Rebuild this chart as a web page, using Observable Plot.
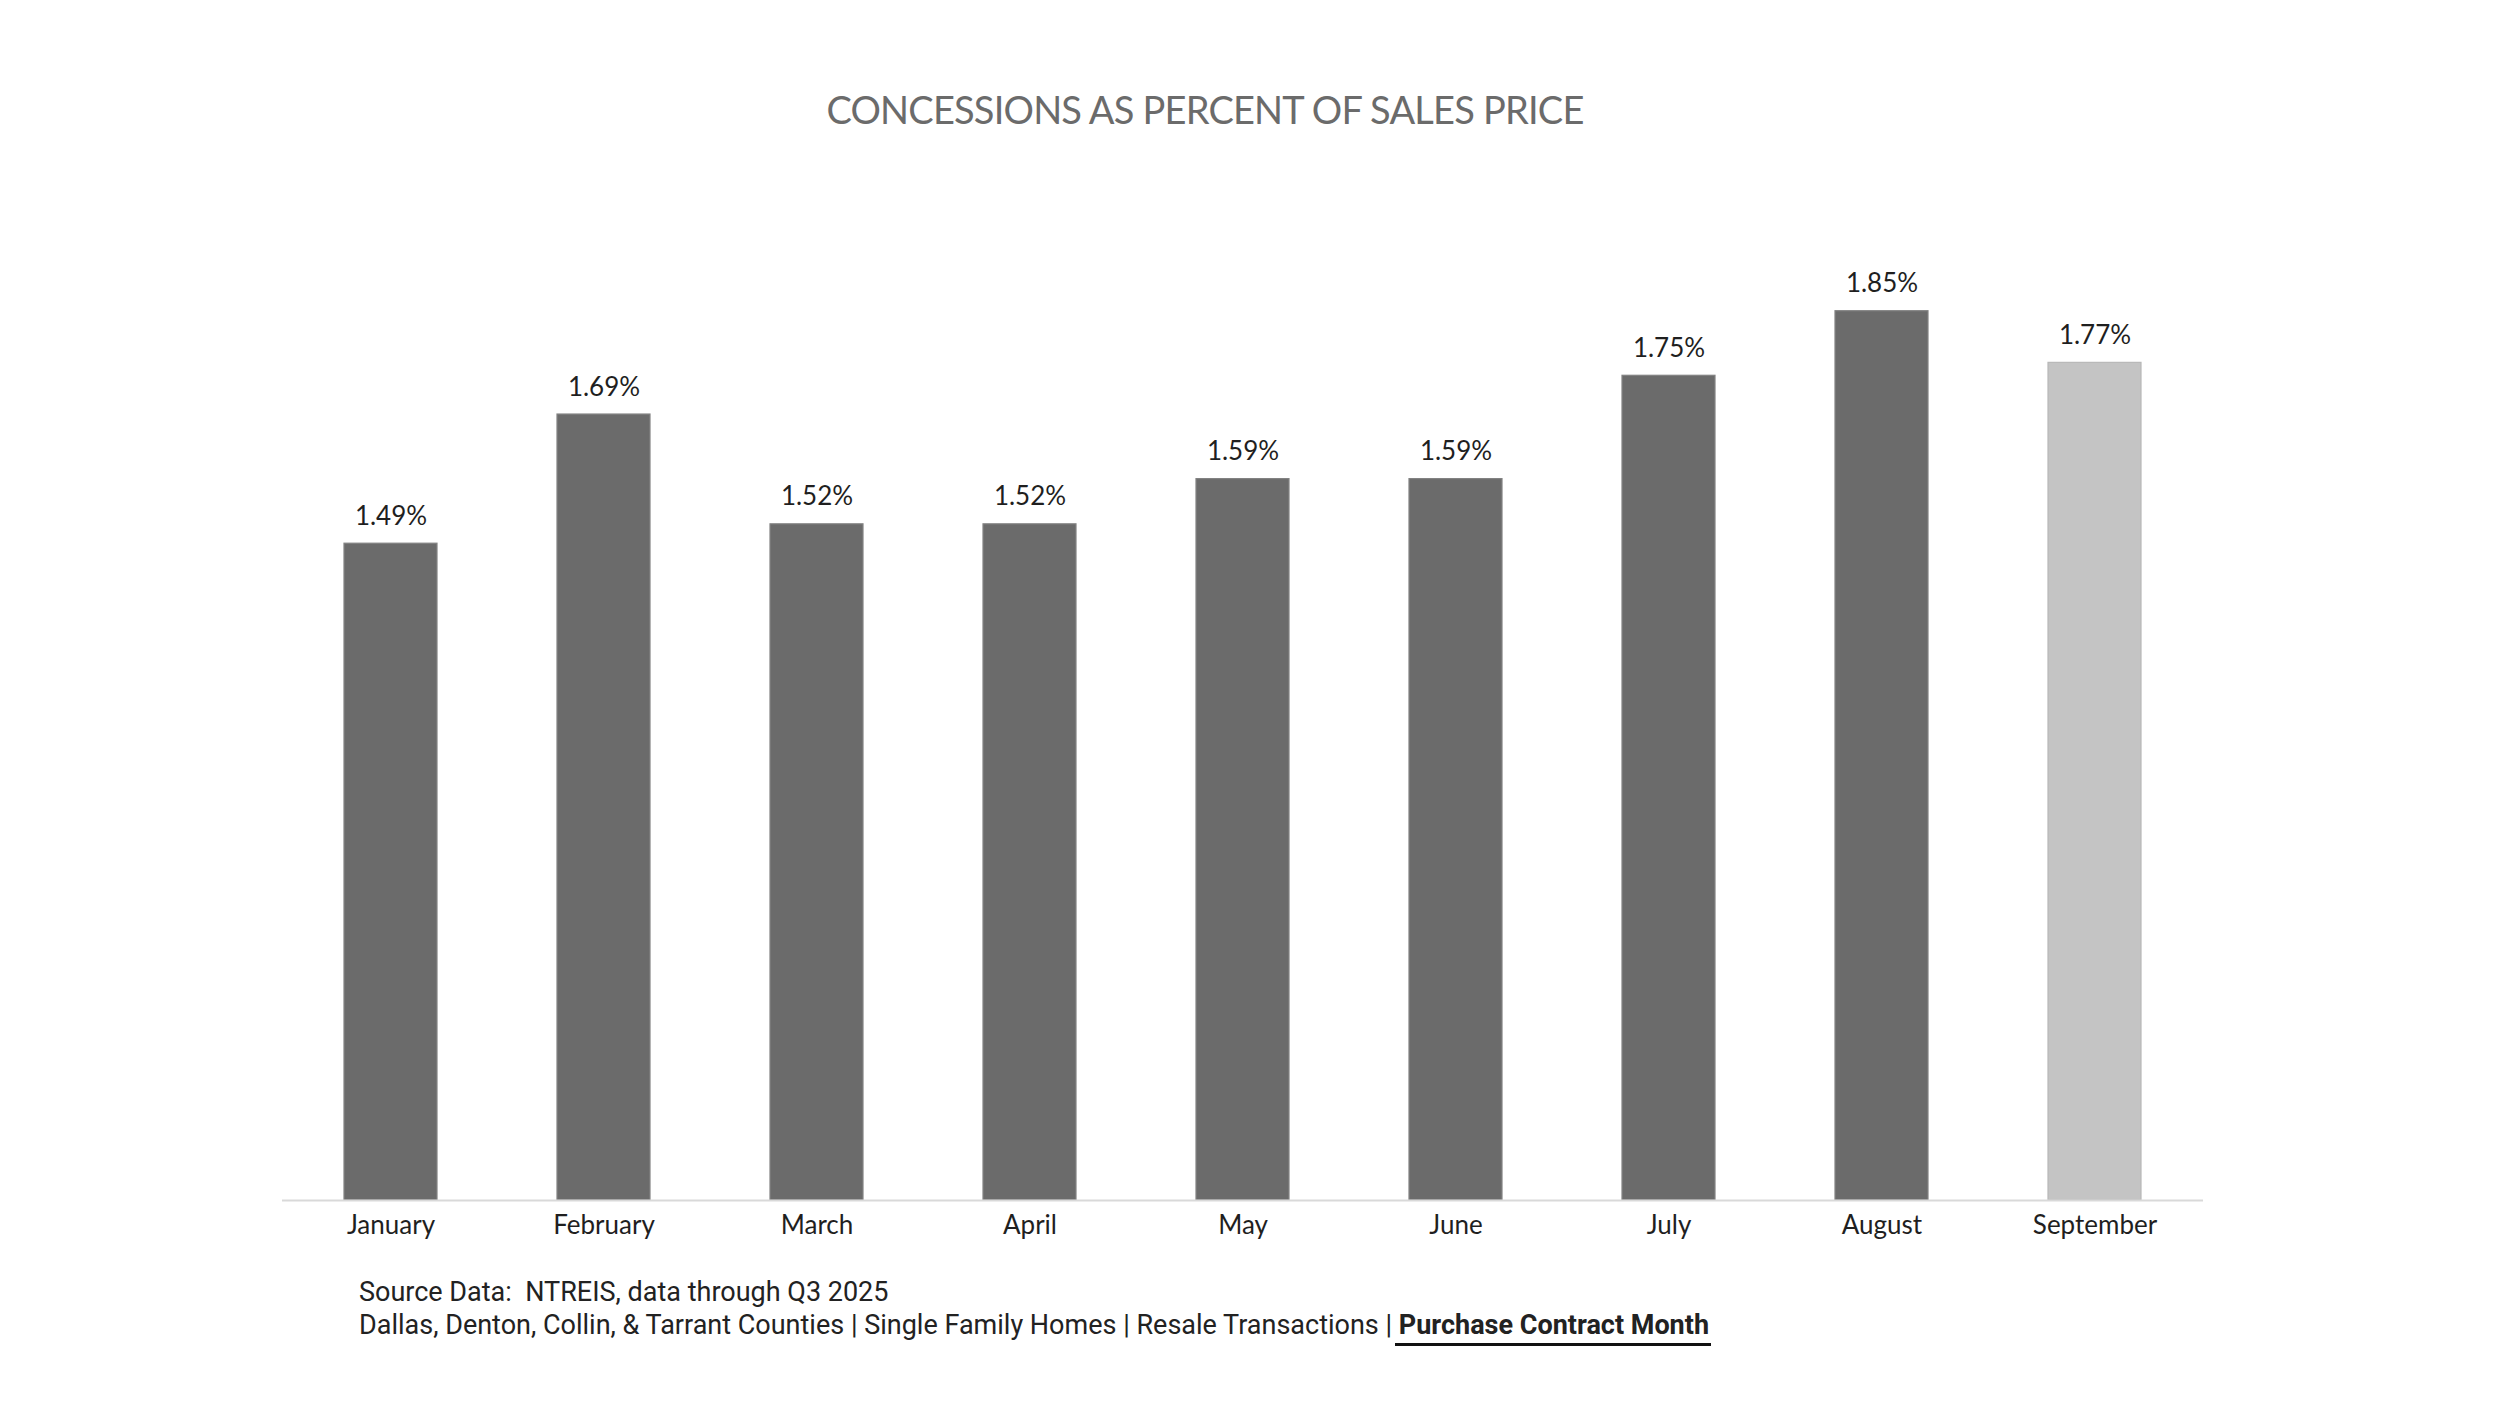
<!DOCTYPE html>
<html>
<head>
<meta charset="utf-8">
<script src="https://cdn.jsdelivr.net/npm/d3@7"></script>
<script src="https://cdn.jsdelivr.net/npm/@observablehq/plot@0.6"></script>
<style>
  html, body { margin: 0; padding: 0; background: #ffffff; }
  body { width: 2500px; height: 1406px; position: relative; overflow: hidden; font-family: Lato, "Noto Sans", sans-serif; }
  #title { position: absolute; left: 1205px; top: 90px; transform: translateX(-50%); white-space: nowrap;
           font-family: Lato, sans-serif; font-size: 38px; line-height: 38px; color: #6b6b6b; letter-spacing: -0.8px; }
  #chart { position: absolute; left: 0; top: 250px; }
  #footer { position: absolute; left: 359px; top: 1276px; font-family: Roboto, sans-serif; font-size: 27px; color: #222;
            line-height: 33px; white-space: pre; letter-spacing: 0px; }
  #footer b { font-weight: 700; border-bottom: 3px solid #111; padding: 0 2px 2px 4px; margin-left: -4px; }
</style>
</head>
<body>
<div id="title"></div>
<div id="chart"></div>
<div id="footer"></div>
<script>
// ---- data ----
const months = ["January", "February", "March", "April", "May", "June", "July", "August", "September"];
const concessionPct = [1.49, 1.69, 1.52, 1.52, 1.59, 1.59, 1.75, 1.85, 1.77];
const dataStatus = ["final", "final", "final", "final", "final", "final", "final", "final", "latest"];
const titleText = "CONCESSIONS AS PERCENT OF SALES PRICE";
const sourceLine = "Source Data:  NTREIS, data through Q3 2025";
const scopeLine = "Dallas, Denton, Collin, & Tarrant Counties | Single Family Homes | Resale Transactions | ";
const scopeEmphasis = "Purchase Contract Month";

const yAxisMin = 0.473;   // value axis (hidden) does not start at zero in the reference

const rows = months.map((m, i) => ({ month: m, value: concessionPct[i], status: dataStatus[i] }));

document.getElementById("title").textContent = titleText;
const footer = document.getElementById("footer");
footer.appendChild(document.createTextNode(sourceLine + "\n" + scopeLine));
const b = document.createElement("b");
b.textContent = scopeEmphasis;
footer.appendChild(b);

const chart = Plot.plot({
  width: 2500,
  height: 1030,
  marginLeft: 282,
  marginRight: 297,
  marginTop: 60.7,
  marginBottom: 80,
  style: { fontFamily: "Lato, sans-serif", background: "transparent", overflow: "visible" },
  x: { domain: months, paddingInner: 0.564, paddingOuter: 0.282, label: null },
  y: { domain: [yAxisMin, d3.max(concessionPct)], axis: null },
  color: { domain: ["final", "latest"], range: ["#6b6b6b", "#c4c4c4"] },
  marks: [
    Plot.barY(rows, { x: "month", y1: yAxisMin, y2: "value", fill: "status",
                      stroke: d => d.status === "latest" ? "#b8b8b8" : "#828282", strokeWidth: 1.2 }),
    Plot.ruleY([yAxisMin], { stroke: "#d9d9d9", strokeWidth: 2 }),
    Plot.text(rows, { x: "month", y: "value", text: d => d.value.toFixed(2) + "%",
                      lineAnchor: "bottom", dy: -19, fontSize: 26, fill: "#1f1f1f" }),
    Plot.axisX({ tickSize: 0, tickPadding: 15, fontSize: 26, color: "#1f1f1f", label: null })
  ]
});
document.getElementById("chart").appendChild(chart);
</script>
</body>
</html>
